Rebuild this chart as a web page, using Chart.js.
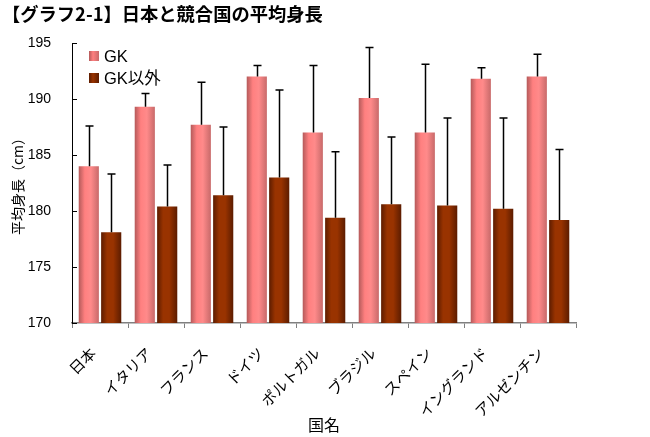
<!DOCTYPE html>
<html><head><meta charset="utf-8">
<script src="https://cdn.jsdelivr.net/npm/chart.js@4/dist/chart.umd.min.js"></script>
<style>html,body{margin:0;padding:0;background:#fff}#wrap{width:650px;height:437px}</style>
</head><body><div id="wrap"><canvas id="c" width="650" height="437"></canvas></div>
<script>
const titleText = '【グラフ2-1】日本と競合国の平均身長';
const categories = ['日本','イタリア','フランス','ドイツ','ポルトガル','ブラジル','スペイン','イングランド','アルゼンチン'];
const seriesNames = ['GK','GK以外'];
const gkValues = [184.0, 189.3, 187.7, 192.0, 187.0, 190.1, 187.0, 191.8, 192.0];
const gkErrors = [3.6, 1.2, 3.8, 1.0, 6.0, 4.5, 6.1, 1.0, 2.0];
const otherValues = [178.1, 180.4, 181.4, 183.0, 179.4, 180.6, 180.5, 180.2, 179.2];
const otherErrors = [5.2, 3.7, 6.1, 7.8, 5.9, 6.0, 7.8, 8.1, 6.3];
const yTicks = [170, 175, 180, 185, 190, 195];
const yTitle = '平均身長（cm）';
const xTitle = '国名';

const FONT = '"Liberation Sans", "Noto Sans CJK JP", sans-serif';
const JFONT = '"Noto Sans CJK JP", sans-serif';

const gradStops = [
  ['#b45a5a','#ff8080','#ff8a8a','#c86a6a'],
  ['#5c1c00','#993300','#993300','#5c1c00']
];

const styling = {
  id: 'styling',
  beforeDatasetsDraw(chart) {
    const ctx = chart.ctx;
    chart.data.datasets.forEach((ds, di) => {
      const meta = chart.getDatasetMeta(di);
      meta.data.forEach(el => {
        const l = el.x - el.width / 2, r = el.x + el.width / 2;
        const g = ctx.createLinearGradient(l, 0, r, 0);
        const s = gradStops[di];
        g.addColorStop(0, s[0]); g.addColorStop(0.3, s[1]); g.addColorStop(0.6, s[2]); g.addColorStop(1, s[3]);
        el.options = Object.assign({}, el.options, { backgroundColor: g });
      });
    });
  },
  afterDatasetsDraw(chart) {
    const ctx = chart.ctx;
    const y = chart.scales.y;
    const errs = [gkErrors, otherErrors];
    ctx.save();
    ctx.strokeStyle = '#000';
    ctx.lineWidth = 1.5;
    chart.data.datasets.forEach((ds, di) => {
      const meta = chart.getDatasetMeta(di);
      meta.data.forEach((el, i) => {
        const v = ds.data[i];
        const top = y.getPixelForValue(v + errs[di][i]);
        const x = Math.round(el.x) + 0.5;
        ctx.beginPath();
        ctx.moveTo(x, el.y); ctx.lineTo(x, top);
        ctx.moveTo(x - 4, top); ctx.lineTo(x + 4, top);
        ctx.stroke();
      });
    });
    ctx.restore();
  },
  afterDraw(chart) {
    const ctx = chart.ctx;
    const y = chart.scales.y;
    const area = chart.chartArea;
    ctx.save();
    ctx.strokeStyle = '#000';
    ctx.lineWidth = 1;
    yTicks.forEach(t => {
      const py = Math.round(y.getPixelForValue(t)) + 0.5;
      ctx.beginPath(); ctx.moveTo(area.left, py); ctx.lineTo(area.left + 5, py); ctx.stroke();
    });
    ctx.fillStyle = '#000';
    ctx.font = 'bold 18.3px ' + JFONT;
    ctx.textBaseline = 'middle';
    ctx.textAlign = 'left';
    ctx.fillText(titleText, 2, 14);
    ctx.font = '16.5px ' + FONT;
    seriesNames.forEach((n, i) => {
      const ly = 56 + i * 22;
      const g = ctx.createLinearGradient(89, 0, 99, 0);
      const s = gradStops[i];
      g.addColorStop(0, s[0]); g.addColorStop(0.4, s[1]); g.addColorStop(1, s[3]);
      ctx.fillStyle = g;
      ctx.fillRect(89, ly - 5, 10, 10);
      ctx.fillStyle = '#000';
      ctx.fillText(n, 104, ly + 1);
    });
    ctx.restore();
  }
};

new Chart(document.getElementById('c'), {
  type: 'bar',
  data: {
    labels: categories,
    datasets: [
      { label: seriesNames[0], data: gkValues, backgroundColor: '#ff8080', borderWidth: 0 },
      { label: seriesNames[1], data: otherValues, backgroundColor: '#993300', borderWidth: 0 }
    ]
  },
  options: {
    responsive: false,
    animation: false,
    events: [],
    layout: { padding: { top: 43, right: 74, left: 0, bottom: 0 } },
    plugins: { legend: { display: false }, tooltip: { enabled: false }, title: { display: false } },
    scales: {
      x: {
        categoryPercentage: 0.57,
        barPercentage: 1.0,
        grid: { display: true, drawOnChartArea: false, offset: true, tickLength: 5, color: '#808080' },
        border: { color: '#808080', width: 1.5 },
        ticks: { color: '#000', font: { family: JFONT, size: 15 }, minRotation: 45, maxRotation: 45, padding: 16, labelOffset: -7, autoSkip: false },
        title: { display: true, text: xTitle, color: '#000', font: { family: JFONT, size: 16 }, padding: { top: 0, bottom: 2 } },
        afterFit(s) { s.height = 114; }
      },
      y: {
        min: 170, max: 195,
        afterBuildTicks(s) { s.ticks = yTicks.map(v => ({ value: v })); },
        grid: { display: false },
        border: { color: '#000', width: 1 },
        ticks: { color: '#000', font: { family: FONT, size: 14 }, padding: 13 },
        title: { display: true, text: yTitle, color: '#000', font: { family: JFONT, size: 14 }, padding: { top: 9, bottom: 0 } },
        afterFit(s) { s.width = 72; }
      }
    }
  },
  plugins: [styling]
});
</script></body></html>
